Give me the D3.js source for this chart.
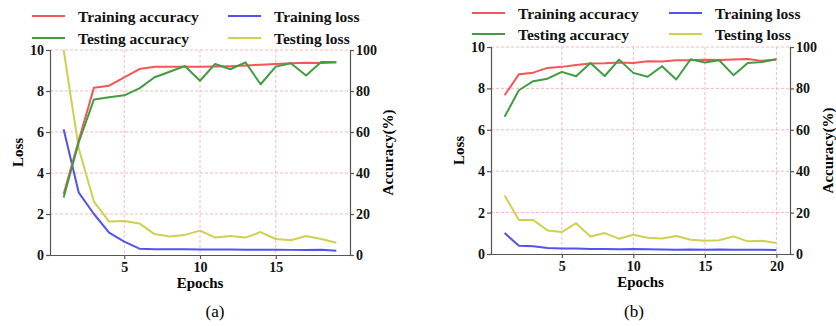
<!DOCTYPE html>
<html>
<head>
<meta charset="utf-8">
<script src="https://cdn.jsdelivr.net/npm/d3@7/dist/d3.min.js"></script>
<style>
  html, body { margin: 0; padding: 0; background: #fff; }
  svg { display: block; }
  text { font-family: "Liberation Serif", "Times New Roman", serif; }
</style>
</head>
<body>
<svg id="chart" width="836" height="326"></svg>
<script>
// ---- data: panel (a) ----
const epochsA = [1, 2, 3, 4, 5, 6, 7, 8, 9, 10, 11, 12, 13, 14, 15, 16, 17, 18, 19];
const trainAccA = [29.8, 56, 81.6, 82.6, 86.7, 90.7, 91.8, 91.8, 91.8, 91.8, 91.9, 92.1, 92.4, 92.8, 93.2, 93.5, 93.8, 93.6, 94.0];
const testAccA  = [28.1, 55, 75.9, 76.9, 77.9, 81.3, 86.7, 89.4, 92.2, 85.0, 93.2, 90.6, 94.0, 83.3, 91.9, 93.5, 87.6, 94.1, 94.0];
const trainLossA = [6.13, 3.04, 2.0, 1.09, 0.65, 0.31, 0.28, 0.28, 0.28, 0.27, 0.27, 0.27, 0.26, 0.26, 0.26, 0.25, 0.25, 0.26, 0.21];
const testLossA  = [10.0, 5.2, 2.6, 1.63, 1.66, 1.54, 1.02, 0.9, 0.98, 1.19, 0.85, 0.93, 0.85, 1.12, 0.78, 0.72, 0.93, 0.78, 0.6];

// ---- data: panel (b) ----
const epochsB = [1, 2, 3, 4, 5, 6, 7, 8, 9, 10, 11, 12, 13, 14, 15, 16, 17, 18, 19, 20];
const trainAccB = [76.7, 86.8, 87.6, 89.9, 90.4, 91.3, 92.0, 92.1, 92.5, 92.3, 93.1, 93.0, 93.6, 93.6, 93.9, 93.7, 94.0, 94.2, 93.3, 94.0];
const testAccB  = [66.3, 79.1, 83.5, 84.7, 88.0, 85.9, 92.3, 86.0, 93.9, 87.5, 85.6, 90.7, 84.3, 94.1, 92.5, 93.6, 86.4, 92.3, 92.8, 94.1];
const trainLossB = [1.01, 0.4, 0.37, 0.29, 0.27, 0.26, 0.24, 0.24, 0.23, 0.24, 0.23, 0.22, 0.21, 0.22, 0.21, 0.22, 0.21, 0.21, 0.21, 0.19];
const testLossB  = [2.83, 1.64, 1.64, 1.14, 1.06, 1.49, 0.85, 1.01, 0.74, 0.93, 0.79, 0.75, 0.87, 0.69, 0.64, 0.66, 0.85, 0.61, 0.64, 0.53];

// ---- shared axis labels ----
const lossTicks = [0, 2, 4, 6, 8, 10];
const accTicks = [0, 20, 40, 60, 80, 100];
const xTicksA = [5, 10, 15];
const xTicksB = [5, 10, 15, 20];
const seriesNames = ["Training accuracy", "Training loss", "Testing accuracy", "Testing loss"];
const panelLabels = ["(a)", "(b)"];

const colors = {
  trainAcc: "#f25656",
  testAcc: "#3f9d3f",
  trainLoss: "#5252f0",
  testLoss: "#cfcf52"
};

const svg = d3.select("#chart");

function drawPanel(p) {
  const g = svg.append("g");
  const x = d3.scaleLinear().domain(p.xDomain).range([p.left, p.right]);
  const yL = d3.scaleLinear().domain([0, 10]).range([p.bottom, p.top]);
  const yR = d3.scaleLinear().domain([0, 100]).range([p.bottom, p.top]);

  // grid
  const grid = g.append("g").attr("stroke", "#f4a6ae").attr("stroke-width", 0.8)
    .attr("stroke-dasharray", "3,2");
  grid.selectAll("line.h").data(lossTicks.filter(d => d > 0)).join("line")
    .attr("x1", p.left).attr("x2", p.right)
    .attr("y1", d => yL(d)).attr("y2", d => yL(d));
  grid.selectAll("line.v").data(p.xTicks).join("line")
    .attr("x1", d => x(d)).attr("x2", d => x(d))
    .attr("y1", p.top).attr("y2", p.bottom);

  // series
  const mk = (ys, sy) => d3.line().x((d, i) => x(p.epochs[i])).y(d => sy(d))(ys);
  const series = [
    [p.trainLoss, yL, colors.trainLoss],
    [p.testLoss, yL, colors.testLoss],
    [p.trainAcc, yR, colors.trainAcc],
    [p.testAcc, yR, colors.testAcc]
  ];
  series.forEach(([vals, sy, c]) => {
    g.append("path").attr("d", mk(vals, sy)).attr("fill", "none")
      .attr("stroke", c).attr("stroke-width", 2).attr("stroke-linejoin", "round");
  });

  // axes
  const styleAxis = sel => {
    sel.select(".domain").attr("stroke", "#555").attr("stroke-width", 1.2);
    sel.selectAll(".tick line").attr("stroke", "#555").attr("stroke-width", 1.2);
    sel.selectAll(".tick text").attr("font-family", "Liberation Serif, serif")
      .attr("font-weight", "bold").attr("font-size", 14).attr("fill", "#111");
  };
  g.append("g").attr("transform", `translate(${p.left},0)`)
    .call(d3.axisLeft(yL).tickValues(lossTicks).tickSize(4).tickPadding(2).tickSizeOuter(4))
    .call(styleAxis);
  g.append("g").attr("transform", `translate(${p.right},0)`)
    .call(d3.axisRight(yR).tickValues(accTicks).tickSize(4).tickPadding(2).tickSizeOuter(4))
    .call(styleAxis);
  g.append("g").attr("transform", `translate(0,${p.bottom})`)
    .call(d3.axisBottom(x).tickValues(p.xTicks).tickSize(4).tickPadding(3).tickSizeOuter(0))
    .call(styleAxis);

  // axis titles
  const midY = (p.top + p.bottom) / 2;
  g.append("text").attr("transform", `translate(${p.left - 32},${midY}) rotate(-90)`)
    .attr("text-anchor", "middle").attr("dominant-baseline", "central")
    .attr("font-weight", "bold").attr("font-size", 15).text("Loss");
  g.append("text").attr("transform", `translate(${p.right + 38},${midY}) rotate(-90)`)
    .attr("text-anchor", "middle").attr("dominant-baseline", "central")
    .attr("font-weight", "bold").attr("font-size", 15).text("Accuracy(%)");
  g.append("text").attr("x", (p.left + p.right) / 2).attr("y", p.bottom + 28)
    .attr("text-anchor", "middle").attr("dominant-baseline", "central")
    .attr("font-weight", "bold").attr("font-size", 15).text("Epochs");
  g.append("text").attr("x", p.labelX).attr("y", 311)
    .attr("text-anchor", "middle").attr("dominant-baseline", "central")
    .attr("font-size", 17).text(p.label);

  // legend
  const legendColors = [colors.trainAcc, colors.trainLoss, colors.testAcc, colors.testLoss];
  seriesNames.forEach((name, i) => {
    const col = i % 2, row = Math.floor(i / 2);
    const lx = p.legendX[col], ly = p.legendY[row];
    g.append("line").attr("x1", lx).attr("x2", lx + 33).attr("y1", ly).attr("y2", ly)
      .attr("stroke", legendColors[i]).attr("stroke-width", 2);
    g.append("text").attr("x", lx + 46).attr("y", ly).attr("dominant-baseline", "central")
      .attr("font-weight", "bold").attr("font-size", 15.5).attr("fill", "#111").text(name);
  });
}

drawPanel({
  epochs: epochsA, trainAcc: trainAccA, testAcc: testAccA, trainLoss: trainLossA, testLoss: testLossA,
  xDomain: [0.1, 19.9], xTicks: xTicksA,
  left: 50, right: 350, top: 50, bottom: 255,
  legendX: [32, 228], legendY: [16, 38], label: panelLabels[0], labelX: 215
});
drawPanel({
  epochs: epochsB, trainAcc: trainAccB, testAcc: testAccB, trainLoss: trainLossB, testLoss: testLossB,
  xDomain: [0.05, 20.95], xTicks: xTicksB,
  left: 491, right: 790, top: 47, bottom: 254,
  legendX: [472, 669], legendY: [13, 34], label: panelLabels[1], labelX: 634
});
</script>
</body>
</html>
